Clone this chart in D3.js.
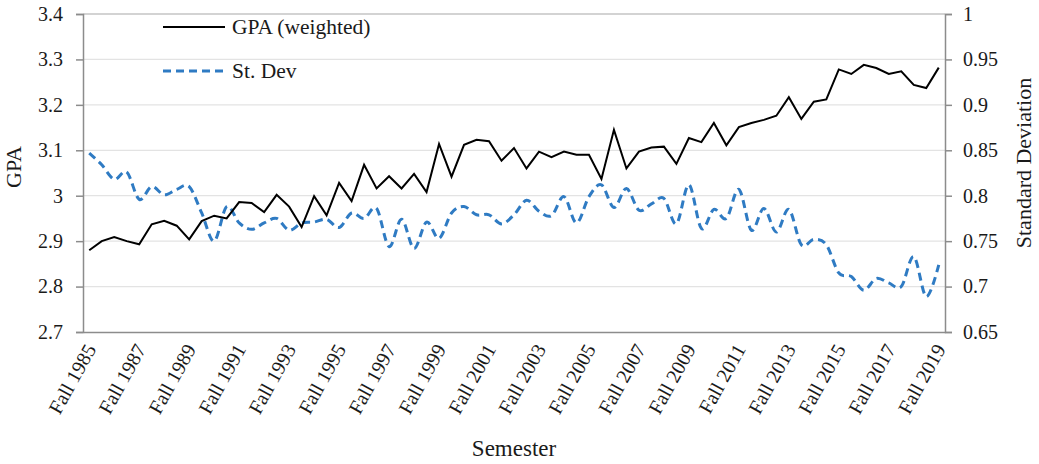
<!DOCTYPE html>
<html>
<head>
<meta charset="utf-8">
<script src="https://cdn.jsdelivr.net/npm/d3@7"></script>
<style>
  body { margin: 0; background: #fff; }
  text { font-family: "Liberation Serif", "Times New Roman", serif; fill: #1a1a1a; }
</style>
</head>
<body>
<div id="chart"></div>
<script>
// semesters: Fall 1985, Spring 1986, Fall 1986 ... Fall 2019
var semesters = [];
for (var yr = 1985; yr <= 2019; yr++) {
  if (yr > 1985) semesters.push("Spring " + yr);
  semesters.push("Fall " + yr);
}

var tickLabels = ["Fall 1985", "Fall 1987", "Fall 1989", "Fall 1991", "Fall 1993", "Fall 1995",
  "Fall 1997", "Fall 1999", "Fall 2001", "Fall 2003", "Fall 2005", "Fall 2007", "Fall 2009",
  "Fall 2011", "Fall 2013", "Fall 2015", "Fall 2017", "Fall 2019"];

var gpa = [2.880, 2.900, 2.909, 2.900, 2.893, 2.937, 2.945, 2.934, 2.904, 2.944,
  2.956, 2.950, 2.986, 2.984, 2.964, 3.002, 2.976, 2.931, 2.999, 2.957,
  3.028, 2.988, 3.068, 3.016, 3.043, 3.016, 3.048, 3.008, 3.114, 3.042,
  3.112, 3.123, 3.120, 3.077, 3.105, 3.060, 3.097, 3.085, 3.097, 3.090,
  3.090, 3.037, 3.145, 3.060, 3.097, 3.106, 3.108, 3.070, 3.127, 3.118,
  3.160, 3.111, 3.151, 3.160, 3.167, 3.176, 3.217, 3.169, 3.207, 3.212,
  3.278, 3.268, 3.288, 3.281, 3.268, 3.274, 3.244, 3.237, 3.282];

var stdev = [0.847, 0.834, 0.818, 0.826, 0.796, 0.810, 0.801, 0.807, 0.810, 0.781,
  0.750, 0.788, 0.770, 0.763, 0.770, 0.775, 0.762, 0.770, 0.771, 0.774,
  0.765, 0.781, 0.775, 0.786, 0.744, 0.774, 0.742, 0.771, 0.753, 0.781,
  0.788, 0.779, 0.779, 0.769, 0.779, 0.795, 0.783, 0.778, 0.799, 0.770,
  0.799, 0.812, 0.787, 0.808, 0.784, 0.791, 0.797, 0.769, 0.812, 0.764,
  0.785, 0.775, 0.807, 0.762, 0.786, 0.760, 0.785, 0.746, 0.752, 0.746,
  0.715, 0.711, 0.696, 0.709, 0.704, 0.700, 0.733, 0.689, 0.724];

var gpaTicks = [2.7, 2.8, 2.9, 3.0, 3.1, 3.2, 3.3, 3.4];
var sdTicks = [0.65, 0.7, 0.75, 0.8, 0.85, 0.9, 0.95, 1];

var W = 1039, H = 464;
var margin = {top: 14, right: 94, bottom: 132, left: 83};
var width = W - margin.left - margin.right,
    height = H - margin.top - margin.bottom;

var svg = d3.select("#chart").append("svg")
  .attr("width", W)
  .attr("height", H)
  .append("g")
  .attr("transform", "translate(" + margin.left + "," + margin.top + ")");

var x = d3.scalePoint().domain(semesters).range([0, width]).padding(0.5);
var yL = d3.scaleLinear().domain([2.7, 3.4]).range([height, 0]);
var yR = d3.scaleLinear().domain([0.65, 1]).range([height, 0]);

// gridlines
svg.append("g")
  .selectAll("line")
  .data(gpaTicks.slice(1))
  .enter().append("line")
  .attr("x1", 0).attr("x2", width)
  .attr("y1", function(d) { return yL(d); })
  .attr("y2", function(d) { return yL(d); })
  .attr("stroke", function(d) { return d === 3.4 ? "#c4c4c4" : "#e3e3e3"; })
  .attr("stroke-width", function(d) { return d === 3.4 ? 1.5 : 1.2; });

// left axis
var leftAxis = svg.append("g")
  .call(d3.axisLeft(yL).tickValues(gpaTicks).tickSize(7).tickPadding(13)
    .tickFormat(function(d) { return d === 3 ? "3" : d3.format(".1f")(d); }));
leftAxis.selectAll("text").style("font-size", "20px");

// right axis
var rightAxis = svg.append("g")
  .attr("transform", "translate(" + width + ",0)")
  .call(d3.axisRight(yR).tickValues(sdTicks).tickSize(7).tickPadding(11)
    .tickFormat(function(d) { return d === 1 ? "1" : String(+d.toFixed(2)); }));
rightAxis.selectAll("text").style("font-size", "20px");

// bottom axis
var bottomAxis = svg.append("g")
  .attr("transform", "translate(0," + height + ")")
  .call(d3.axisBottom(x).tickValues(tickLabels).tickSize(0).tickPadding(0));
bottomAxis.selectAll("text")
  .style("font-size", "20px")
  .attr("text-anchor", "end")
  .attr("dy", null)
  .attr("y", 0)
  .attr("transform", "translate(7,17) rotate(-61)");

svg.selectAll(".domain, .tick line").attr("stroke", "#8c8c8c").attr("stroke-width", 1.5);

// lines
var gpaLine = d3.line()
  .x(function(d, i) { return x(semesters[i]); })
  .y(function(d) { return yL(d); });

var sdLine = d3.line()
  .curve(d3.curveCatmullRom.alpha(0))
  .x(function(d, i) { return x(semesters[i]); })
  .y(function(d) { return yR(d); });

svg.append("path")
  .datum(stdev)
  .attr("fill", "none")
  .attr("stroke", "#2f7bc3")
  .attr("stroke-width", 3)
  .attr("stroke-dasharray", "8,5")
  .attr("d", sdLine);

svg.append("path")
  .datum(gpa)
  .attr("fill", "none")
  .attr("stroke", "#000")
  .attr("stroke-width", 2)
  .attr("d", gpaLine);

// legend
var legend = svg.append("g").attr("transform", "translate(80,0)");
legend.append("line")
  .attr("x1", 0).attr("x2", 62).attr("y1", 13).attr("y2", 13)
  .attr("stroke", "#000").attr("stroke-width", 2);
legend.append("text")
  .attr("x", 69).attr("y", 20)
  .style("font-size", "21.5px")
  .text("GPA (weighted)");
legend.append("line")
  .attr("x1", 0).attr("x2", 62).attr("y1", 57).attr("y2", 57)
  .attr("stroke", "#2f7bc3").attr("stroke-width", 3)
  .attr("stroke-dasharray", "8,5");
legend.append("text")
  .attr("x", 69).attr("y", 64)
  .style("font-size", "21.5px")
  .text("St. Dev");

// axis titles
svg.append("text")
  .attr("transform", "translate(" + (-62) + "," + (height / 2 - 6) + ") rotate(-90)")
  .attr("text-anchor", "middle")
  .style("font-size", "22px")
  .text("GPA");

svg.append("text")
  .attr("transform", "translate(" + (width + 86) + "," + (height / 2 - 10) + ") rotate(-90)")
  .attr("text-anchor", "middle")
  .style("font-size", "22px")
  .text("Standard Deviation");

svg.append("text")
  .attr("x", width / 2)
  .attr("y", height + 124)
  .attr("text-anchor", "middle")
  .style("font-size", "23px")
  .text("Semester");
</script>
</body>
</html>
